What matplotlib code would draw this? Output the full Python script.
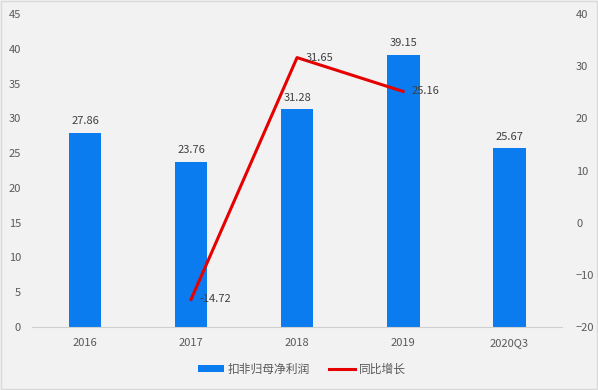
import matplotlib.pyplot as plt
import numpy as np

plt.rcParams['font.family'] = ['Noto Sans CJK SC', 'DejaVu Sans']

categories = ['2016', '2017', '2018', '2019', '2020Q3']
profit = [27.86, 23.76, 31.28, 39.15, 25.67]
growth_cats = ['2017', '2018', '2019']
growth = [-14.72, 31.65, 25.16]

bg = '#f2f2f2'
fig = plt.figure(figsize=(5.98, 3.90), dpi=100, facecolor=bg)
ax = fig.add_axes([0.0535, 0.1615, 0.8865, 0.8025], facecolor=bg)
x = np.arange(len(categories))
bars = ax.bar(x, profit, width=0.31, color='#0a7cf0', label='扣非归母净利润', zorder=2)
ax.set_xlim(-0.5, len(categories) - 0.5)
ax.set_ylim(0, 45)
ax.set_yticks(np.arange(0, 46, 5))
ax.set_xticks(x)
ax.set_xticklabels(categories)
for s in ['top', 'right', 'left']:
    ax.spines[s].set_visible(False)
ax.spines['bottom'].set_color('#d0d0d0')
ax.tick_params(axis='both', length=0, labelsize=8, labelcolor='#595959')
ax.tick_params(axis='x', pad=8)
ax.tick_params(axis='y', pad=8)
for xi, v in zip(x, profit):
    ax.annotate(f'{v:.2f}', (xi, v), xytext=(0, 5), textcoords='offset points',
                ha='center', va='bottom', fontsize=8, color='#404040')

ax2 = ax.twinx()
ax2.set_ylim(-20, 40)
ax2.set_yticks(np.arange(-20, 41, 10))
for s in ['top', 'right', 'left', 'bottom']:
    ax2.spines[s].set_visible(False)
ax2.tick_params(axis='y', length=0, labelsize=8, labelcolor='#595959', pad=10)
gx = [categories.index(c) for c in growth_cats]
line, = ax2.plot(gx, growth, color='#e60000', lw=2.2, label='同比增长', zorder=3)
for xi, v in zip(gx, growth):
    ax2.annotate(f'{v:.2f}', (xi, v), xytext=(6, 0), textcoords='offset points',
                 ha='left', va='center', fontsize=8, color='#404040')

fig.legend(handles=[bars, line], labels=['扣非归母净利润', '同比增长'],
           loc='center', bbox_to_anchor=(0.505, 0.053), ncol=2, frameon=False,
           fontsize=8.5, labelcolor='#595959', handlelength=2.2, handleheight=0.5,
           columnspacing=1.6, handletextpad=0.3)

fig.patches.append(plt.Rectangle((0.002, 0.003), 0.996, 0.994, transform=fig.transFigure,
                                 fill=False, edgecolor='#d9d9d9', lw=1))
fig.savefig('out.png', dpi=100, facecolor=bg)
